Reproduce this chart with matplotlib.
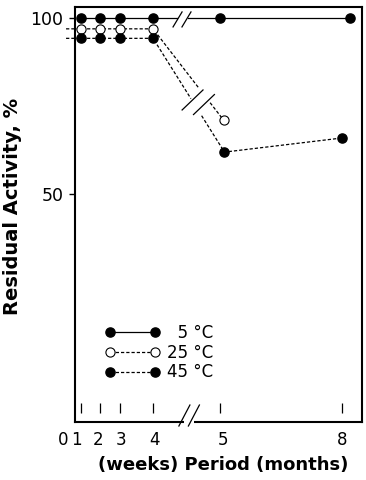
import matplotlib
matplotlib.use('Agg')
import matplotlib.pyplot as plt
import numpy as np

plt.rcParams['font.family'] = ['DejaVu Sans']

# positions on the (non-linear) time axis: weeks 1-4, then months 5 and 8
week_pos = [0.95, 1.95, 3.0, 4.74]
x_5c = week_pos + [8.26, 15.1]
y_5c = [100, 100, 100, 100, 100, 100]
x_25c = week_pos + [8.45]
y_25c = [96.9, 96.9, 96.9, 96.9, 71.0]
x_45c = week_pos + [8.5, 14.68]
y_45c = [94.2, 94.2, 94.2, 94.2, 61.9, 65.9]

tick_pos = [0.95, 1.97, 2.99, 4.74, 8.28, 14.69]
label_pos = [0, 0.7, 1.84, 3.05, 4.8, 8.42, 14.68]
tick_labels = ['0', '1', '2', '3', '4', '5', '8']

fig = plt.figure(figsize=(3.66, 4.8), dpi=100)
ax = fig.add_axes([74.5/366, 1-421.5/480, (362-74.5)/366, (421.5-7)/480])
ax.set_xlim(0.605, 15.74)
ax.set_ylim(-14.6, 103.1)

for s in ax.spines.values():
    s.set_linewidth(1.5)

lw = 0.9
dash = (0, (2.6, 1.6))


def broken_line(x, y, gap_seg, t0, t1, **kw):
    # line through the points, interrupted inside segment gap_seg
    x = np.asarray(x, float)
    y = np.asarray(y, float)
    i = gap_seg
    xa = x[i] + t0*(x[i+1]-x[i]); ya = y[i] + t0*(y[i+1]-y[i])
    xb = x[i] + t1*(x[i+1]-x[i]); yb = y[i] + t1*(y[i+1]-y[i])
    ax.plot(list(x[:i+1]) + [xa], list(y[:i+1]) + [ya], **kw)
    ax.plot([xb] + list(x[i+1:]), [yb] + list(y[i+1:]), **kw)


def slashes(centers, half):
    for cx, cy in centers:
        ax.plot([cx-half[0], cx+half[0]], [cy-half[1], cy+half[1]],
                color='k', lw=lw, clip_on=False, zorder=6)


# series lines
broken_line(x_5c, y_5c, 3, 0.36, 0.52, color='k', lw=lw, zorder=2)
broken_line([0.16] + x_25c, [y_25c[0]] + y_25c, 4, 0.64, 0.81,
            color='k', lw=lw, linestyle=dash, clip_on=False, zorder=2)
broken_line([0.16] + x_45c, [y_45c[0]] + y_45c, 4, 0.53, 0.68,
            color='k', lw=lw, linestyle=dash, clip_on=False, zorder=2)

# markers
ax.plot(x_5c, y_5c, 'o', ms=6.6, mfc='k', mec='k', clip_on=False, zorder=4)
ax.plot(x_25c, y_25c, 'o', ms=6.6, mfc='white', mec='k', mew=0.8, clip_on=False, zorder=4)
ax.plot(x_45c, y_45c, 'o', ms=6.6, mfc='k', mec='k', clip_on=False, zorder=4)

# break marks
slashes([(6.03, 99.57), (6.5, 99.57)], (0.237, 2.13))
slashes([(6.82, 76.7), (7.42, 75.4)], (0.55, 2.84))
ax.plot([6.39, 6.89], [0, 0], color='white', lw=3, transform=ax.get_xaxis_transform(),
        clip_on=False, zorder=5, solid_capstyle='butt')
slashes([(6.39, -12.9), (6.89, -12.9)], (0.29, 2.98))

# inner ticks on x axis, labels below
ax.set_xticks([])
ax.vlines(tick_pos, -12.2, -9.4, color='k', lw=lw)
for p, t in zip(label_pos, tick_labels):
    ax.text(p, -0.045, t, transform=ax.get_xaxis_transform(), ha='center', va='center',
            fontsize=12, clip_on=False)

ax.set_yticks([50, 100])
ax.set_yticklabels(['50', '100'])
ax.tick_params(axis='y', direction='out', length=4.5, width=1.0, pad=3.5, labelsize=12.5)

ax.set_ylabel('Residual Activity, %', fontsize=14, fontweight='bold')
ax.yaxis.set_label_coords(-0.183, 0.519)
ax.set_xlabel('(weeks) Period (months)', fontsize=13, fontweight='bold')
ax.xaxis.set_label_coords(0.516, -0.083)

# legend
h1, = ax.plot([], [], '-o', color='k', lw=lw, ms=6.6)
h2, = ax.plot([], [], 'o', linestyle=dash, color='k', lw=lw, ms=6.6, mfc='white', mew=0.8)
h3, = ax.plot([], [], 'o', linestyle=dash, color='k', lw=lw, ms=6.6)
ax.legend([h1, h2, h3], ['\u20075 \u00b0C', '25 \u00b0C', '45 \u00b0C'], numpoints=2,
          handlelength=3.3, handletextpad=0.42, labelspacing=0.1, frameon=False,
          fontsize=12, loc='upper left', borderpad=0, borderaxespad=0,
          bbox_to_anchor=((105-74.5)/287.5, (421.5-324)/414.5))

plt.savefig('out.png', dpi=100)
